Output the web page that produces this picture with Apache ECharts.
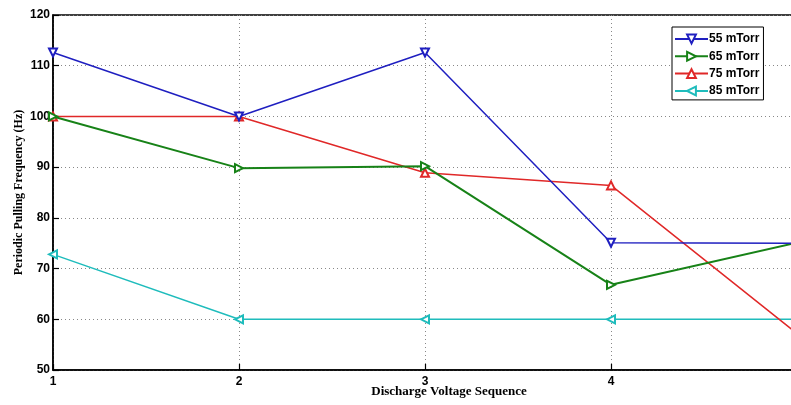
<!DOCTYPE html>
<html>
<head>
<meta charset="utf-8">
<script src="https://cdn.jsdelivr.net/npm/echarts@6/dist/echarts.min.js"></script>
<style>html,body{margin:0;padding:0;background:#fff}#c{width:791px;height:405px}</style>
</head>
<body>
<div id="c"></div>
<script>
var xValues = [1, 2, 3, 4, 5];
var seriesNames = ['55 mTorr', '65 mTorr', '75 mTorr', '85 mTorr'];
var s55 = [112.6, 100, 112.6, 75.1, 75];
var s65 = [100, 89.8, 90.2, 66.8, 75.1];
var s75 = [100, 100, 88.9, 86.4, 57.2];
var s85 = [72.8, 60, 60, 60, 60];
var yTicks = [50, 60, 70, 80, 90, 100, 110, 120];
var xTitle = 'Discharge Voltage Sequence';
var yTitle = 'Periodic Pulling Frequency (Hz)';

var colors = ['#1f1fc0', '#178217', '#e02828', '#1fbcbc'];
var rotations = [180, -90, 0, 90];
var widths = [1.5, 2, 1.5, 1.5];
var allData = [s55, s65, s75, s85];

function pairs(v) { return xValues.map(function (x, i) { return [x, v[i]]; }); }

var chart = echarts.init(document.getElementById('c'), null, {renderer: 'canvas'});
var tickFont = {color: '#000', fontFamily: 'Liberation Sans, Arial', fontWeight: 'bold', fontSize: 12};
chart.setOption({
  animation: false,
  backgroundColor: '#fff',
  grid: {left: 53, top: 15, right: -6, bottom: 35, outerBoundsMode: 'none', containLabel: false,
         show: true, borderColor: '#000', borderWidth: 1.5, backgroundColor: 'transparent'},
  legend: {
    orient: 'vertical', left: 672, top: 27,
    data: seriesNames,
    backgroundColor: '#fff', borderColor: '#000', borderWidth: 1, borderRadius: 0,
    padding: [6, 4, 3, 2],
    itemWidth: 33, itemHeight: 11, itemGap: 5.3,
    textStyle: {color: '#000', fontFamily: 'Liberation Sans, Arial', fontWeight: 'bold', fontSize: 12, padding: [0, 0, 0, -4]}
  },
  xAxis: {
    type: 'value', min: 1, max: 5, interval: 1,
    name: xTitle, nameLocation: 'middle', nameGap: 15, nameMoveOverlap: false,
    nameTextStyle: {color: '#000', fontFamily: 'Liberation Serif, Times New Roman', fontWeight: 'bold', fontSize: 13, padding: [0, 0, 0, 48]},
    axisLine: {show: true, onZero: false, lineStyle: {color: '#000', width: 1.5}},
    axisTick: {show: true, inside: true, length: 6, lineStyle: {color: '#000', width: 1.2}},
    axisLabel: Object.assign({margin: 6, showMaxLabel: false}, tickFont),
    splitLine: {show: true, lineStyle: {color: '#888', type: [1, 3], width: 1}}
  },
  yAxis: {
    type: 'value', min: yTicks[0], max: yTicks[yTicks.length - 1], interval: 10,
    name: yTitle, nameLocation: 'middle', nameGap: 28, nameMoveOverlap: false,
    nameTextStyle: {color: '#000', fontFamily: 'Liberation Serif, Times New Roman', fontWeight: 'bold', fontSize: 12},
    axisLine: {show: true, onZero: false, lineStyle: {color: '#000', width: 1.5}},
    axisTick: {show: true, inside: true, length: 6, lineStyle: {color: '#000', width: 1.2}},
    axisLabel: Object.assign({margin: 3}, tickFont),
    splitLine: {show: true, lineStyle: {color: '#888', type: [1, 3], width: 1}}
  },
  series: seriesNames.map(function (n, i) {
    return {
      name: n, type: 'line', data: pairs(allData[i]),
      symbol: 'emptyTriangle', symbolSize: 8, symbolRotate: rotations[i],
      showAllSymbol: true,
      lineStyle: {color: colors[i], width: widths[i]},
      itemStyle: {color: colors[i], borderColor: colors[i], borderWidth: 1.3},
      z: 2 + (3 - i)
    };
  })
});
</script>
</body>
</html>
